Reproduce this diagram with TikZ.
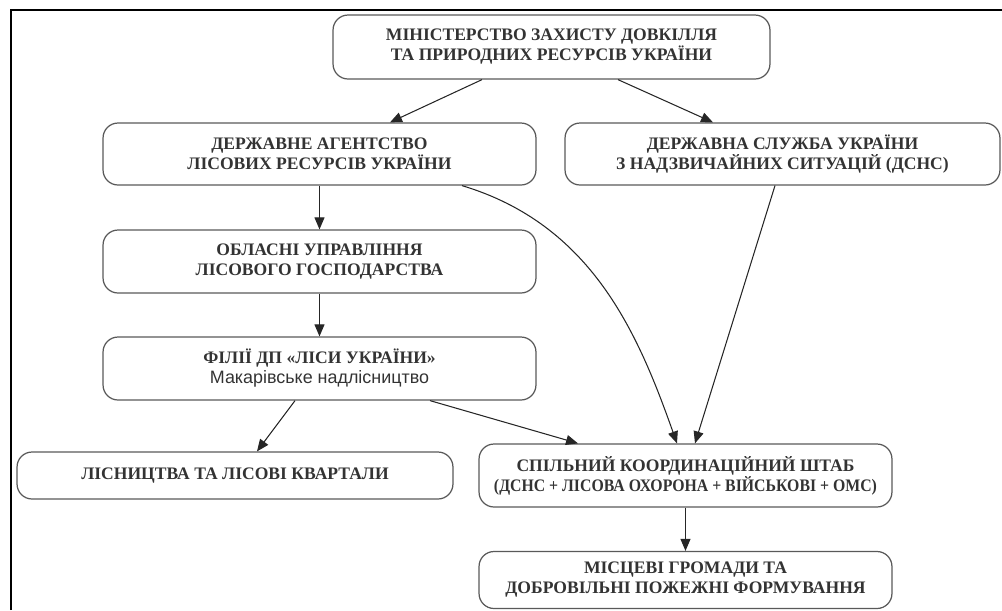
\documentclass[tikz,border=0pt]{standalone}
\usepackage{fontspec}
\usepackage{graphicx}
\setmainfont{Liberation Serif}
\setsansfont{Liberation Sans}
\usetikzlibrary{arrows.meta}

\begin{document}
\begin{tikzpicture}[
    x=0.02cm, y=-0.02cm,
    every node/.style={font=\fontsize{10}{11.4}\selectfont\bfseries, text=black!80, align=center},
    orgbox/.style={draw=black!65, line width=0.7pt, rounded corners=0.3cm, inner sep=0pt},
    link/.style={draw=black!85, line width=0.6pt, -{Triangle[length=2.4mm,width=2mm]}},
]
\useasboundingbox (0,0) rectangle (1002,610);
\draw[line width=1.2pt] (11,610) -- (11,10) -- (1002,10);
\node[orgbox, minimum width=8.74cm, minimum height=1.28cm] (min) at (551.5,47)
  {МІНІСТЕРСТВО ЗАХИСТУ ДОВКІЛЛЯ\\ТА ПРИРОДНИХ РЕСУРСІВ УКРАЇНИ};
\node[orgbox, minimum width=8.66cm, minimum height=1.24cm] (agency) at (319.5,154)
  {ДЕРЖАВНЕ АГЕНТСТВО\\ЛІСОВИХ РЕСУРСІВ УКРАЇНИ};
\node[orgbox, minimum width=8.7cm, minimum height=1.24cm] (dsns) at (782.5,154)
  {ДЕРЖАВНА СЛУЖБА УКРАЇНИ\\З НАДЗВИЧАЙНИХ СИТУАЦІЙ (ДСНС)};
\node[orgbox, minimum width=8.66cm, minimum height=1.26cm] (region) at (319.5,261.5)
  {ОБЛАСНІ УПРАВЛІННЯ\\ЛІСОВОГО ГОСПОДАРСТВА};
\node[orgbox, minimum width=8.66cm, minimum height=1.26cm] (branch) at (319.5,368.5)
  {ФІЛІЇ ДП «ЛІСИ УКРАЇНИ»\\\fontsize{10.2}{11.4}\selectfont\sffamily\mdseries Макарівське надлісництво};
\node[orgbox, minimum width=8.72cm, minimum height=0.94cm] (lis) at (235,475.5)
  {ЛІСНИЦТВА ТА ЛІСОВІ КВАРТАЛИ};
\node[orgbox, minimum width=8.26cm, minimum height=1.26cm] (hq) at (685.5,475.5)
  {СПІЛЬНИЙ КООРДИНАЦІЙНИЙ ШТАБ\\\scalebox{0.9}[1]{(ДСНС + ЛІСОВА ОХОРОНА + ВІЙСЬКОВІ + ОМС)}};
\node[orgbox, minimum width=8.26cm, minimum height=1.14cm] (local) at (685.5,580)
  {МІСЦЕВІ ГРОМАДИ ТА\\ДОБРОВІЛЬНІ ПОЖЕЖНІ ФОРМУВАННЯ};

\draw[link] ([xshift=-1.39cm]min.south) -- ([xshift=1.41cm]agency.north);
\draw[link] ([xshift=1.33cm]min.south) -- ([xshift=-1.39cm]dsns.north);
\draw[link] (agency.south) -- (region.north);
\draw[link] (region.south) -- (branch.north);
\draw[link] ([xshift=-0.49cm]branch.south) -- ([xshift=0.44cm]lis.north);
\draw[link] ([xshift=2.21cm]branch.south) -- ([xshift=-2.15cm]hq.north);
\draw[link] ([xshift=2.85cm]agency.south) .. controls +(130,39) and +(-39,-110) .. ([xshift=-0.17cm]hq.north);
\draw[link] ([xshift=-0.15cm]dsns.south) -- ([xshift=0.19cm]hq.north);
\draw[link] (hq.south) -- (local.north);
\end{tikzpicture}
\end{document}
